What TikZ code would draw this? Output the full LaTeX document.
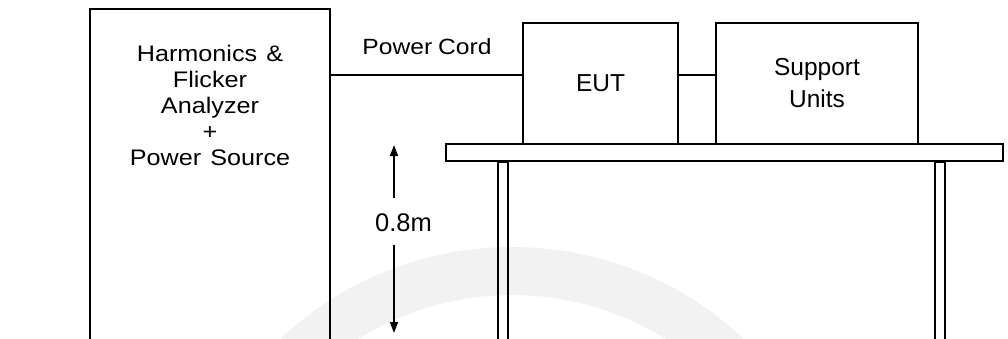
\documentclass[tikz,border=0pt]{standalone}
\usepackage{fontspec}
\setmainfont{Liberation Sans}
\newfontfamily\widefont{Liberation Sans}[FakeStretch=1.12]
\usetikzlibrary{arrows.meta}
\begin{document}
\begin{tikzpicture}[x=1pt,y=-1pt,
  box/.style={draw,line width=1.6pt,inner sep=0pt,align=center},
  wire/.style={line width=1.4pt},
  dimarrow/.style={line width=1.8pt,-{Triangle[length=11pt,width=8pt]}},
  lbl/.style={inner sep=0pt,align=center}]
\clip (0,0) rectangle (1008,338);
\fill[white] (0,0) rectangle (1008,338);
% faint watermark band
\fill[black!5,even odd rule] (512,585) circle (338) (512,585) circle (290);
% analyzer
\node[box,minimum width=240pt,minimum height=360pt] (anl) at (210,189) {};
\node[lbl,font=\widefont\fontsize{22.5}{26}\selectfont] (anltxt) at (210,105)
  {Harmonics\hspace{9pt}\&\\Flicker\\Analyzer\\+\\Power\hspace{9pt}Source};
% EUT and support units
\node[box,minimum width=155pt,minimum height=121pt,font=\fontsize{24.5}{28}\selectfont] (eut) at (600.5,83.5) {\raisebox{-1.5pt}{EUT}};
\node[box,minimum width=202pt,minimum height=121pt,font=\fontsize{24.5}{32}\selectfont] (sup) at (817,83.5) {\raisebox{-1.5pt}{Support}\\\raisebox{-1.5pt}{Units}};
% table
\node[box,minimum width=557pt,minimum height=17pt] (tbl) at (724.5,152.5) {};
\node[box,minimum width=10pt,minimum height=200pt,anchor=north] (legL) at (503,161) {};
\node[box,minimum width=10pt,minimum height=200pt,anchor=north] (legR) at (940,161) {};
% cables
\coordinate (cy) at (0,75);
\draw[wire] (anl.east |- cy) -- (eut.west |- cy);
\draw[wire] (eut.east |- cy) -- (sup.west |- cy);
\node[lbl,font=\widefont\fontsize{22}{26}\selectfont] (cord) at (427,47) {Power\hspace{-1pt} Cord};
% height dimension
\node[lbl,font=\fontsize{25.5}{28}\selectfont] (dim) at (403.5,223) {0.8m};
\coordinate (d1) at (394,198);
\coordinate (d2) at (394,145);
\coordinate (d3) at (394,245);
\coordinate (d4) at (394,333);
\draw[dimarrow] (d1) -- (d2);
\draw[dimarrow] (d3) -- (d4);
\end{tikzpicture}
\end{document}
